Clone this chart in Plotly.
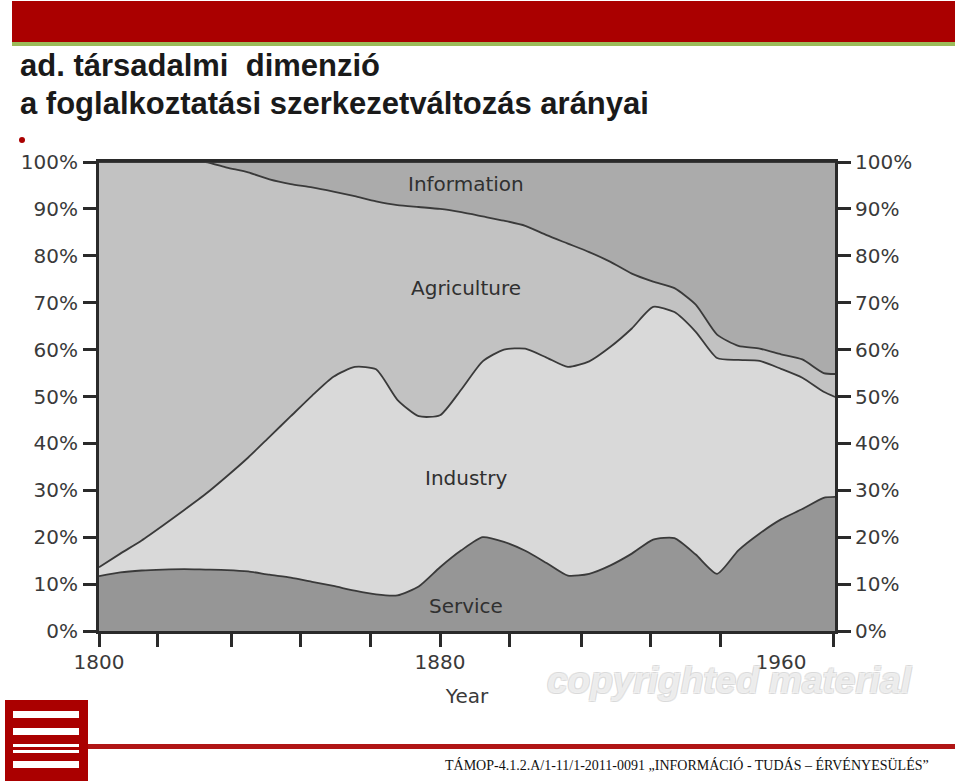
import plotly.graph_objects as go

# ---------------- data ----------------
years = [1800, 1805, 1810, 1815, 1820, 1825, 1830, 1835, 1840, 1845, 1850, 1855,
         1860, 1865, 1870, 1875, 1880, 1885, 1890, 1895, 1900, 1905, 1910, 1915,
         1920, 1925, 1930, 1935, 1940, 1945, 1950, 1955, 1960, 1965, 1970, 1972.7]

service = [11.7, 12.5, 12.9, 13.1, 13.2, 13.1, 13.0, 12.7, 12.0, 11.4, 10.5, 9.6,
           8.6, 7.8, 7.6, 9.5, 13.6, 17.2, 20.0, 19.0, 17.1, 14.5, 11.8, 12.2,
           14.0, 16.5, 19.5, 19.8, 16.3, 12.2, 17.2, 20.8, 23.8, 26.0, 28.4, 28.6]

industry = [1.9, 4.0, 6.4, 9.4, 12.6, 16.1, 20.0, 24.3, 29.4, 34.4, 39.7, 44.6,
            47.7, 48.0, 41.7, 36.3, 32.4, 34.3, 37.5, 41.0, 43.1, 43.8, 44.5, 45.3,
            46.6, 48.0, 49.6, 48.2, 47.5, 46.0, 40.6, 36.8, 32.1, 28.0, 22.6, 21.3]

agriculture = [86.4, 83.5, 80.7, 77.5, 74.2, 70.8, 65.8, 60.8, 54.9, 49.5, 44.4, 39.5,
               36.4, 35.8, 41.5, 44.6, 44.0, 37.8, 30.9, 27.5, 26.2, 26.1, 26.3, 23.3,
               18.1, 11.7, 5.4, 5.1, 5.8, 5.0, 3.0, 2.6, 3.1, 3.9, 4.0, 4.9]

information = [0, 0, 0, 0, 0, 0, 1.2, 2.2, 3.7, 4.7, 5.4, 6.3,
               7.3, 8.4, 9.2, 9.6, 10.0, 10.7, 11.6, 12.5, 13.6, 15.6, 17.4, 19.2,
               21.3, 23.8, 25.5, 26.9, 30.4, 36.8, 39.2, 39.8, 41.0, 42.1, 45.0, 45.2]

sector_names = ["Service", "Industry", "Agriculture", "Information"]
label_year = 1886
label_pos = [5.3, 32.6, 73.1, 95.3]

x_tick_years = [1800, 1813.8, 1831.2, 1847.2, 1863.6, 1880, 1896.2, 1913.1, 1929.5, 1945.9, 1972.4]
x_label_years = [1800, 1880, 1960]
x_labels = ["1800", "1880", "1960"]
y_ticks = [0, 10, 20, 30, 40, 50, 60, 70, 80, 90, 100]
y_labels = [f"{v}%" for v in y_ticks]

title_lines = ["ad. társadalmi  dimenzió", "a foglalkoztatási szerkezetváltozás arányai"]
footer = "TÁMOP-4.1.2.A/1-11/1-2011-0091 „INFORMÁCIÓ - TUDÁS – ÉRVÉNYESÜLÉS”"
watermark = "copyrighted material"

# ---------------- layout geometry ----------------
W, H = 960, 783
L, R, T, B = 99, 125, 162, 152
PW, PH = W - L - R, H - T - B


def px(x):
    return (x - L) / PW


def py(y):
    return (H - B - y) / PH


fills = ["#969696", "#d9d9d9", "#c2c2c2", "#ababab"]
series = [service, industry, agriculture, information]

fig = go.Figure()
for name, vals, col in zip(sector_names, series, fills):
    fig.add_trace(go.Scatter(
        x=years, y=vals, name=name, stackgroup="one", mode="lines",
        line=dict(color="#3a3a3a", width=1.8, shape="spline", smoothing=0.6),
        fillcolor=col, hoverinfo="skip", showlegend=False))

# helper trace so the overlaid axes (right y, label x) are drawn
fig.add_trace(go.Scatter(x=[1800], y=[0], xaxis="x2", yaxis="y2", mode="markers",
                         marker=dict(opacity=0), hoverinfo="skip", showlegend=False))

axis_font = dict(family="DejaVu Sans, Arial, sans-serif", size=20, color="#3a3a3a")
xr = [1800, 1800 + PW / 4.2625]

fig.update_layout(
    width=W, height=H,
    margin=dict(l=L, r=R, t=T, b=B, pad=0),
    paper_bgcolor="white", plot_bgcolor="white",
    xaxis=dict(range=xr, tickmode="array", tickvals=x_tick_years, showticklabels=False,
               ticks="outside", ticklen=13, tickwidth=2.5, tickcolor="#2a2a2a",
               showline=True, linecolor="#2a2a2a", linewidth=3, mirror=True,
               showgrid=False, zeroline=False, fixedrange=True),
    xaxis2=dict(range=xr, overlaying="x", anchor="y2", side="bottom",
                tickmode="array", tickvals=x_label_years, ticktext=x_labels,
                ticks="outside", ticklen=13, tickcolor="rgba(0,0,0,0)",
                tickfont=axis_font, showline=False, showgrid=False, zeroline=False,
                title=dict(text="Year", font=axis_font, standoff=15)),
    yaxis=dict(range=[0, 100], tickmode="array", tickvals=y_ticks, ticktext=y_labels,
               ticks="outside", ticklen=13, tickwidth=2.5, tickcolor="#2a2a2a",
               tickfont=axis_font, showline=True, linecolor="#2a2a2a", linewidth=3,
               showgrid=False, zeroline=False, ticklabelstandoff=1),
    yaxis2=dict(range=[0, 100], overlaying="y", side="right", anchor="x2",
                tickmode="array", tickvals=y_ticks, ticktext=y_labels,
                ticks="outside", ticklen=13, tickwidth=2.5, tickcolor="#2a2a2a",
                tickfont=axis_font, showline=True, linecolor="#2a2a2a", linewidth=3,
                showgrid=False, zeroline=False, ticklabelstandoff=0),
)

ann = []
for name, yv in zip(sector_names, label_pos):
    ann.append(dict(x=label_year, y=yv, xref="x", yref="y", text=name, showarrow=False,
                    font=dict(family="DejaVu Sans, Arial, sans-serif", size=20, color="#303030")))

title_font = dict(family="Liberation Sans, Arial, sans-serif",
                  size=31, color="#1a1a1a", weight="bold")
ann.append(dict(x=px(18), y=py(66), xref="paper", yref="paper", text=title_lines[0],
                xanchor="left", yanchor="middle", showarrow=False, font=title_font))
ann.append(dict(x=px(18), y=py(103), xref="paper", yref="paper", text=title_lines[1],
                xanchor="left", yanchor="middle", showarrow=False, font=title_font))
ann.append(dict(x=px(443), y=py(765), xref="paper", yref="paper", text=footer,
                xanchor="left", yanchor="middle", showarrow=False,
                font=dict(family="Liberation Serif, Times New Roman, serif", size=14, color="#111")))
ann.append(dict(x=px(729), y=py(680), xref="paper", yref="paper", text=watermark,
                xanchor="center", yanchor="middle", showarrow=False,
                font=dict(family="Liberation Sans, Arial, sans-serif", size=37, color="rgba(255,255,255,0.6)",
                          weight="bold", style="italic",
                          shadow="-1px -1px 0 #d2d2d2, 1px -1px 0 #d2d2d2, -1px 1px 0 #d2d2d2, 1px 1px 0 #d2d2d2")))
fig.update_layout(annotations=ann)

shapes = []
# top red bar + green strip
shapes.append(dict(type="rect", xref="paper", yref="paper", x0=px(12), x1=px(955), y0=py(42), y1=py(1),
                   fillcolor="#aa0000", line=dict(width=0), layer="above"))
shapes.append(dict(type="rect", xref="paper", yref="paper", x0=px(12), x1=px(955), y0=py(46), y1=py(42),
                   fillcolor="#9bbb59", line=dict(width=0), layer="above"))
# red bullet
shapes.append(dict(type="circle", xref="paper", yref="paper", x0=px(19), x1=px(25), y0=py(143), y1=py(137),
                   fillcolor="#aa0000", line=dict(width=0), layer="above"))
# logo
shapes.append(dict(type="rect", xref="paper", yref="paper", x0=px(5), x1=px(88), y0=py(781), y1=py(700),
                   fillcolor="#aa0000", line=dict(width=0), layer="above"))
for y0, y1 in [(711, 718), (728, 735), (744, 747), (750, 753), (761, 768)]:
    shapes.append(dict(type="rect", xref="paper", yref="paper", x0=px(13), x1=px(79), y0=py(y1), y1=py(y0),
                       fillcolor="white", line=dict(width=0), layer="above"))
# bottom red line
shapes.append(dict(type="rect", xref="paper", yref="paper", x0=px(88), x1=px(955), y0=py(749), y1=py(744),
                   fillcolor="#b01515", line=dict(width=0), layer="above"))
fig.update_layout(shapes=shapes)

fig.write_html("out.html", config={"displayModeBar": False},
               post_script="document.body.style.margin='0';")
